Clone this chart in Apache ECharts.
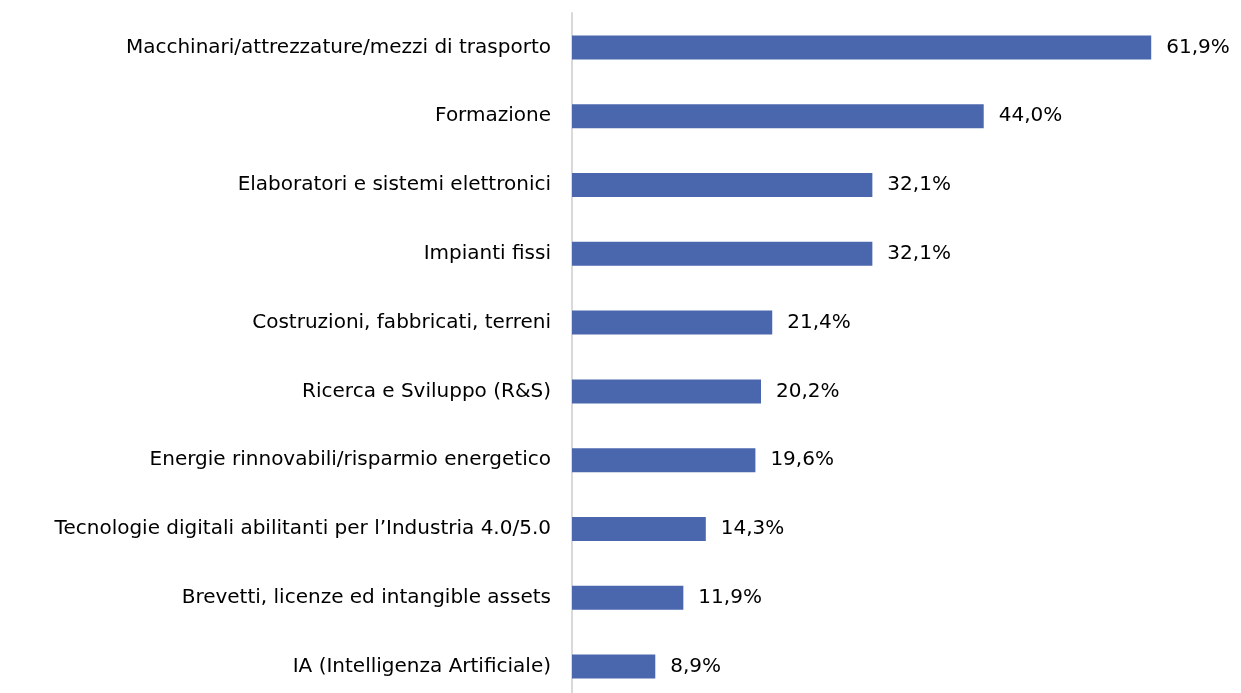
<!DOCTYPE html>
<html>
<head>
<meta charset="utf-8">
<script src="https://cdn.jsdelivr.net/npm/echarts@6/dist/echarts.min.js"></script>
<style>
html, body { margin: 0; padding: 0; background: #fff; }
#chart { width: 1241px; height: 693px; }
</style>
</head>
<body>
<div id="chart"></div>
<script>
// categorie (dall'alto verso il basso)
var categorie = [
	'Macchinari/attrezzature/mezzi di trasporto',
	'Formazione',
	'Elaboratori e sistemi elettronici',
	'Impianti fissi',
	'Costruzioni, fabbricati, terreni',
	'Ricerca e Sviluppo (R&S)',
	'Energie rinnovabili/risparmio energetico',
	'Tecnologie digitali abilitanti per l\u2019Industria 4.0/5.0',
	'Brevetti, licenze ed intangible assets',
	'IA (Intelligenza Artificiale)'
];
var valori = [61.9, 44.0, 32.1, 32.1, 21.4, 20.2, 19.6, 14.3, 11.9, 8.9];

var chart = echarts.init(document.getElementById('chart'));
var option = {
	animation: false,
	textStyle: { fontFamily: 'DejaVu Sans' },
	grid: { left: 572, right: 14, top: 13, height: 688, outerBoundsMode: 'none' },
	xAxis: {
		type: 'value',
		min: 0,
		max: 70,
		show: false
	},
	yAxis: {
		type: 'category',
		inverse: true,
		data: categorie,
		axisLine: { show: true, lineStyle: { color: '#d9d9d9', width: 2 } },
		axisTick: { show: false },
		axisLabel: { color: '#000', fontSize: 20, margin: 21 }
	},
	series: [{
		type: 'bar',
		data: valori,
		barWidth: 24,
		itemStyle: { color: '#4a67ad' },
		label: {
			show: true,
			position: 'right',
			distance: 15,
			color: '#000',
			fontSize: 20,
			formatter: function (p) { return p.value.toFixed(1).replace('.', ',') + '%'; }
		}
	}]
};
chart.setOption(option);
</script>
</body>
</html>
